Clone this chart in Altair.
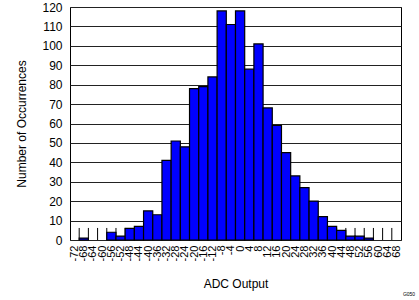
import altair as alt
import pandas as pd

# Histogram data
bin_centers = list(range(-72, 72, 4))
counts = [0, 1, 0, 0, 4, 2, 6, 7, 15, 13, 41, 51,
          48, 78, 79, 84, 118, 111, 118, 88, 101, 68, 59, 45,
          33, 27, 20, 12, 7, 5, 2, 2, 1, 0, 0, 0]
bin_edges = list(range(-70, 70, 4))
y_ticks = list(range(0, 130, 10))

df = pd.DataFrame({"center": bin_centers, "count": counts})
df["start"] = df["center"] - 2
df["end"] = df["center"] + 2
df = df[df["count"] > 0]

edges = pd.DataFrame({"edge": bin_edges})

FONT = "Liberation Sans"

x_scale = alt.Scale(domain=[-74, 70], nice=False, zero=False)
y_scale = alt.Scale(domain=[0, 120], nice=False)

x_axis = alt.Axis(
    values=bin_centers, labelExpr="datum.value + ''", labelAngle=270,
    labelAlign="right", labelBaseline="middle", labelFontSize=11,
    labelPadding=5, labelOverlap=False, labelFlush=False,
    ticks=False, tickSize=0, domain=False, grid=False,
    title="ADC Output", titleFontSize=12, titleFontWeight="normal",
    titleBaseline="alphabetic", titleY=47, titleColor="black",
)
y_axis = alt.Axis(
    values=y_ticks, labelFontSize=12, labelPadding=8, labelBaseline="middle",
    ticks=False, tickSize=0, domain=False,
    grid=True, gridColor="#222222", gridWidth=1, gridOpacity=1,
    title="Number of Occurrences", titleFontSize=12, titleFontWeight="normal",
    titleBaseline="alphabetic", titleX=-45, titleColor="black",
)

ticks_inner = alt.Chart(edges).mark_rule(color="black", strokeWidth=1).encode(
    x=alt.X("edge:Q", scale=x_scale, axis=x_axis),
    y=alt.datum(0, scale=y_scale, axis=y_axis),
    y2=alt.datum(6.2),
)

bars = alt.Chart(df).mark_bar(color="#0000FF", stroke="black", strokeWidth=1.2).encode(
    x=alt.X("start:Q", scale=x_scale, axis=x_axis),
    x2="end:Q",
    y=alt.Y("count:Q", scale=y_scale, axis=y_axis),
    y2=alt.datum(0),
)

fig_id = alt.Chart(pd.DataFrame({"t": ["G050"]})).mark_text(
    fontSize=5, font=FONT, color="black", align="center", baseline="middle"
).encode(text="t:N", x=alt.value(339), y=alt.value(287))

chart = alt.layer(ticks_inner, bars, fig_id).properties(
    width=331, height=233,
    autosize=alt.AutoSizeParams(type="none"),
    padding={"left": 70, "top": 7, "right": 18, "bottom": 60},
    background="white",
).configure_view(stroke="black", strokeWidth=1).configure_axis(
    labelFont=FONT, titleFont=FONT, labelColor="black", titleColor="black"
)

chart.save("out.html", embed_options={"renderer": "svg", "actions": False})
